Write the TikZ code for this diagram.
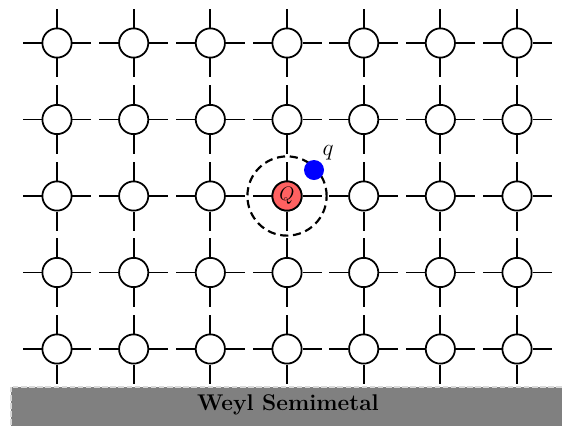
\documentclass[tikz,border=0pt]{standalone}
\usepackage{tikz}
\usetikzlibrary{positioning}

\begin{document}
\begin{tikzpicture}[
    x=0.026cm, y=-0.026cm,
    site/.style={circle, draw, line width=1.3pt, fill=white, minimum size=7.6mm, inner sep=0pt},
    charge/.style={site, fill=red!62, font=\Large},
    stub/.style={line width=1.3pt},
    orbit/.style={circle, draw, line width=1.6pt, dash pattern=on 6pt off 3.5pt, minimum size=20.6mm, inner sep=0pt},
    probe/.style={circle, fill=blue, minimum size=5.2mm, inner sep=0pt},
  ]
  \useasboundingbox (0,0) rectangle (562,425);
  % lattice of sites with their bonds
  \foreach \i in {0,...,6}
    \foreach \j in {0,...,4} {
      \node[site] (s-\i-\j) at ({57+76.67*\i},{43+76.5*\j}) {};
      \draw[stub] (s-\i-\j.east) -- ++(19,0);
      \draw[stub] (s-\i-\j.west) -- ++(-19,0);
      \draw[stub] (s-\i-\j.north) -- ++(0,-19);
      \draw[stub] (s-\i-\j.south) -- ++(0,19);
    }
  \node[charge] (Q) at (s-3-2) {$Q$};
  \node[orbit] (orb) at (Q) {};
  \node[probe] (q) at (314,170) {};
  \node[font=\LARGE] (qlab) at (328,153) {$q$};
  % substrate
  \draw[fill=gray, draw=gray!30, line width=1pt, dash pattern=on 4pt off 2pt] (11,387) rectangle (570,440);
  \node[font=\fontsize{16.8}{18}\selectfont\bfseries] (wsm) at (288,405) {Weyl Semimetal};
\end{tikzpicture}
\end{document}
